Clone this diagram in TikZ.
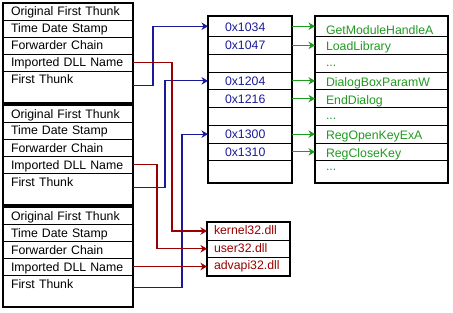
\documentclass[tikz,border=0pt]{standalone}
\usepackage{fontspec}
\setmainfont{Liberation Sans}
\usetikzlibrary{arrows.meta}
\definecolor{ptrblue}{HTML}{1A1A99}
\definecolor{ptrred}{HTML}{990000}
\definecolor{ptrgreen}{HTML}{1E9A1E}

\begin{document}
\begin{tikzpicture}[x=1pt, y=-1pt, font=\fontsize{12.3}{14}\selectfont,
    cell/.style={draw, line width=0.8pt, anchor=north west, outer sep=0pt,
                 inner ysep=0pt, align=left},
    lcell/.style={cell, text width=114pt, inner xsep=8pt, text height=13pt, text depth=4pt},
    mcell/.style={cell, text=ptrblue, text width=50pt, inner xsep=17pt,
                  text height=13.25pt, text depth=4.5pt},
    fcell/.style={cell, text=ptrgreen, text width=111pt, inner xsep=11pt,
                  text height=14.5pt, text depth=3.25pt},
    dcell/.style={cell, text=ptrred, text width=69pt, inner xsep=7pt,
                  text height=12pt, text depth=6pt},
    frame/.style={draw, line width=1.6pt},
    link/.style={line width=1.2pt, -{Stealth[length=6.5pt, width=7.5pt, inset=2pt]}},
  ]
  \useasboundingbox (0,0) rectangle (453,313);

  % import descriptors
  \foreach \b/\y in {1/3, 2/105, 3/207} {
    \node[lcell] (oft\b) at (3,\y) {Original First Thunk};
    \node[lcell] (tds\b) at (3,\y+17) {Time Date Stamp};
    \node[lcell] (fc\b) at (3,\y+34) {Forwarder Chain};
    \node[lcell] (dll\b) at (3,\y+51) {Imported DLL Name};
    \node[lcell, text depth=19pt] (ft\b) at (3,\y+68) {First Thunk};
    \draw[frame] (oft\b.north west) rectangle (ft\b.south east);
  }

  % thunk addresses
  \node[mcell, text height=15.5pt, text depth=5pt] (m1) at (208,16) {0x1034};
  \node[mcell] (m2) at (208,36.5) {0x1047};
  \node[mcell] (m3) at (208,54.25) {};
  \node[mcell] (m4) at (208,72) {0x1204};
  \node[mcell] (m5) at (208,89.75) {0x1216};
  \node[mcell] (m6) at (208,107.5) {};
  \node[mcell] (m7) at (208,125.25) {0x1300};
  \node[mcell] (m8) at (208,143) {0x1310};
  \node[mcell, text depth=9.25pt] (m9) at (208,160.75) {};
  \draw[frame] (m1.north west) rectangle (m9.south east);

  % function names
  \node[fcell, text height=18.5pt, text depth=2pt] (f1) at (315,16) {GetModuleHandleA};
  \node[fcell] (f2) at (315,36.5) {LoadLibrary};
  \node[fcell, text height=12.5pt, text depth=5.25pt] (f3) at (315,54.25) {...};
  \node[fcell] (f4) at (315,72) {DialogBoxParamW};
  \node[fcell] (f5) at (315,89.75) {EndDialog};
  \node[fcell, text height=12.5pt, text depth=5.25pt] (f6) at (315,107.5) {...};
  \node[fcell] (f7) at (315,125.25) {RegOpenKeyExA};
  \node[fcell] (f8) at (315,143) {RegCloseKey};
  \node[fcell, text height=10pt, text depth=12.5pt] (f9) at (315,160.75) {...};
  \draw[frame] (f1.north west) rectangle (f9.south east);

  % dll names
  \node[dcell] (k) at (207,222) {kernel32.dll};
  \node[dcell, text depth=5.5pt] (u) at (207,240) {user32.dll};
  \node[dcell, text depth=6.5pt] (a) at (207,257.5) {advapi32.dll};
  \draw[frame] (k.north west) rectangle (a.south east);

  \foreach \i in {1,2,4,5,7,8}
    \draw[link, ptrgreen] (m\i.east) -- (m\i.east -| f\i.west);

  \draw[link, ptrblue] ([yshift=1.5pt]ft1.east) -- ++(20,0) |- (m1.west);
  \draw[link, ptrblue] ([yshift=1.5pt]ft2.east) -- ++(32,0) |- (m4.west);
  \draw[link, ptrblue] ([yshift=3.5pt]ft3.east) -- ++(49,0) |- (m7.west);

  \draw[link, ptrred] (dll1.east) -- ++(39,0) |- (k.west);
  \draw[link, ptrred] (dll2.east) -- ++(24,0) |- (u.west);
  \draw[link, ptrred] (dll3.east) -- (dll3.east -| a.west);
\end{tikzpicture}
\end{document}
